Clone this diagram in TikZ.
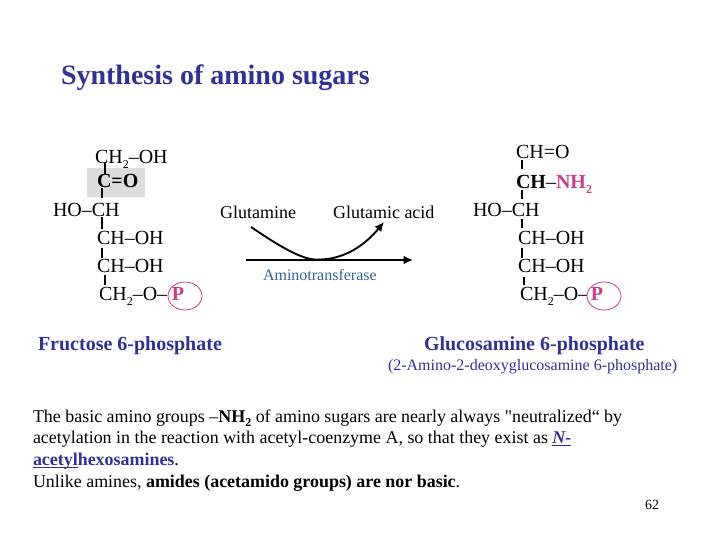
\documentclass[tikz,border=0pt]{standalone}
\usepackage{fontspec}
\setmainfont{Liberation Serif}
\newfontfamily\plainf{Liberation Serif}
\usetikzlibrary{arrows.meta,shapes.geometric}
\definecolor{pinkc}{RGB}{200,60,140}
\definecolor{navyc}{RGB}{50,50,150}
\definecolor{bluec}{RGB}{50,100,150}
\definecolor{greyc}{RGB}{221,221,221}
\tikzset{
 px/.style={x=0.75pt,y=-0.75pt},
 txt/.style={inner sep=0pt,outer sep=0pt,anchor=base west,font=\fontsize{13.5pt}{16pt}\selectfont},
 chem/.style={txt,font=\fontsize{15pt}{16pt}\selectfont},
 bond/.style={line width=1.5pt,black},
 para/.style={txt,font=\fontsize{13.45pt}{16pt}\selectfont},
 pcirc/.style={draw=pinkc,line width=0.6pt,fill=white,ellipse,minimum width=25.5pt,minimum height=21pt,inner sep=0pt},
 reactarrow/.style={line width=1.4pt,-{Latex[length=7pt,width=6.5pt]}},
}
\newcommand{\sbs}[1]{\raisebox{-0.25em}{\fontsize{9pt}{9pt}\selectfont #1}}
\begin{document}
\begin{tikzpicture}[px]
\useasboundingbox (0,0) rectangle (720,540);
\fill[white] (0,0) rectangle (720,540);
\node[txt,font=\fontsize{21pt}{24pt}\selectfont\bfseries,text=navyc] (title) at (61,84) {Synthesis of amino sugars};
% left
\fill[greyc] (87,168) rectangle (145,197);
\coordinate (l1) at (105,163); \coordinate (l2) at (105,174);
\coordinate (l3) at (102,188); \coordinate (l4) at (102,198);
\coordinate (l5) at (102,217); \coordinate (l6) at (102,229);
\coordinate (l7) at (102,248); \coordinate (l8) at (102,258);
\coordinate (l9) at (105,275); \coordinate (l10) at (105,285);
\draw[bond] (l1)--(l2); \draw[bond] (l3)--(l4); \draw[bond] (l5)--(l6); \draw[bond] (l7)--(l8); \draw[bond] (l9)--(l10);
\node[chem] (a1) at (95,163) {CH\sbs{2}–OH};
\node[chem,font=\fontsize{15pt}{16pt}\selectfont\bfseries] (a2) at (97,187) {C=O};
\node[chem] (a3) at (53,216) {HO–CH};
\node[chem] (a4) at (97,244) {CH–OH};
\node[chem] (a5) at (97,272) {CH–OH};
\node[chem] (a6) at (99,300) {CH\sbs{2}–O–};
\node[pcirc] (pa) at (185,296) {};
\node[chem,font=\fontsize{15pt}{16pt}\selectfont\bfseries,text=pinkc,anchor=base] (pat) at (178,300) {P};
\node[txt,font=\fontsize{15pt}{18pt}\selectfont\bfseries,text=navyc] (f6p) at (38,350) {Fructose 6-phosphate};
% middle
\node[txt] (gln) at (220,218) {Glutamine};
\node[txt] (glu) at (333,218) {Glutamic acid};
\coordinate (ls) at (246,260); \coordinate (le) at (413,260);
\coordinate (cs) at (251,227); \coordinate (ce) at (384,222);
\draw[reactarrow] (ls)--(le);
\draw[reactarrow] (cs) .. controls (285,250) and (305,261) .. (320,259.5) .. controls (345,259) and (365,245) .. (ce);
\node[txt,font=\fontsize{12pt}{13pt}\selectfont,text=bluec] (am) at (263,280) {Aminotransferase};
% right
\coordinate (r1) at (522,160); \coordinate (r2) at (522,169);
\coordinate (r3) at (522,190); \coordinate (r4) at (522,199);
\coordinate (r5) at (522,219); \coordinate (r6) at (522,228);
\coordinate (r7) at (522,248); \coordinate (r8) at (522,258);
\coordinate (r9) at (524,277); \coordinate (r10) at (524,285);
\draw[bond] (r1)--(r2); \draw[bond] (r3)--(r4); \draw[bond] (r5)--(r6); \draw[bond] (r7)--(r8); \draw[bond] (r9)--(r10);
\node[chem] (b1) at (516,158) {CH=O};
\node[chem] (b2) at (516,188) {\textbf{CH}–\textcolor{pinkc}{\textbf{NH\sbs{2}}}};
\node[chem] (b3) at (473,216) {HO–CH};
\node[chem] (b4) at (518,244) {CH–OH};
\node[chem] (b5) at (518,272) {CH–OH};
\node[chem] (b6) at (520,300) {CH\sbs{2}–O–};
\node[pcirc] (pb) at (604,296) {};
\node[chem,font=\fontsize{15pt}{16pt}\selectfont\bfseries,text=pinkc,anchor=base] (pbt) at (597,300) {P};
\node[txt,font=\fontsize{15pt}{18pt}\selectfont\bfseries,text=navyc] (g6p) at (424,350) {Glucosamine 6-phosphate};
\node[txt,font=\fontsize{12pt}{14pt}\selectfont,text=navyc] (g6p2) at (388,370) {(2-Amino-2-deoxyglucosamine 6-phosphate)};
% paragraph
\node[para] (p1) at (33,422) {The basic amino groups –\textbf{NH\sbs{2}} of amino sugars are nearly always {\plainf"}neutralized“ by};
\node[para] (p2) at (33,443) {acetylation in the reaction with acetyl-coenzyme A, so that they exist as \textcolor{navyc}{\textbf{\textit{\underline{\smash{N-}}}}}};
\node[para] (p3) at (33,465) {\textcolor{navyc}{\textbf{\underline{\smash{acetyl}}hexosamines}}.};
\node[para] (p4) at (33,487) {Unlike amines, \textbf{amides (acetamido groups) are nor basic}.};
\node[txt,font=\fontsize{10.5pt}{12pt}\selectfont] (pg) at (645,509) {62};
\end{tikzpicture}
\end{document}
